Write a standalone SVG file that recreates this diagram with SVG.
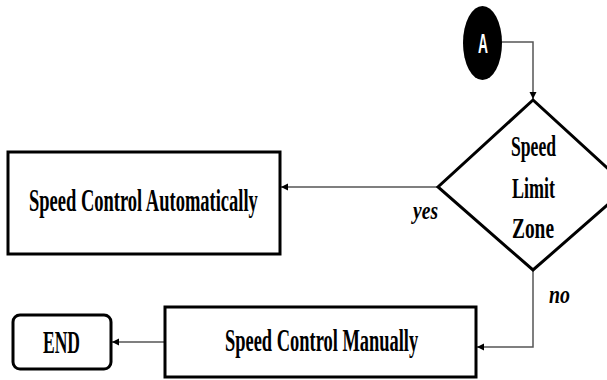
<svg xmlns="http://www.w3.org/2000/svg" width="607" height="380" viewBox="0 0 607 380">
<style>
.box{fill:#fff;stroke:#000;stroke-width:3}
.lbl{font-family:"Liberation Serif","Times New Roman",serif;font-weight:bold;font-size:32px;fill:#000}
.dl{font-family:"Liberation Serif","Times New Roman",serif;font-weight:bold;font-size:29px;fill:#000}
.it{font-family:"Liberation Serif","Times New Roman",serif;font-style:italic;font-weight:bold;font-size:25px;fill:#000}
.con{fill:none;stroke:#555;stroke-width:1.5}
</style>
<defs>
<marker id="arr" markerWidth="8" markerHeight="8" refX="7" refY="4" orient="auto" markerUnits="userSpaceOnUse">
<path d="M0,0.5 L7,4 L0,7.5 Z" fill="#000"/>
</marker>
</defs>
<g id="connectors">
<path class="con" d="M501,42 H533 V99" marker-end="url(#arr)"/>
<path class="con" d="M438,187 H281" marker-end="url(#arr)"/>
<path class="con" d="M533,270 V347 H477" marker-end="url(#arr)"/>
<path class="con" d="M165,342 H112" marker-end="url(#arr)"/>
<text class="it" x="413" y="219" textLength="25" lengthAdjust="spacingAndGlyphs">yes</text>
<text class="it" x="549" y="303" textLength="21" lengthAdjust="spacingAndGlyphs">no</text>
</g>
<g id="nodeA">
<ellipse cx="482.5" cy="43" rx="19.5" ry="37" fill="#000"/>
<text x="478" y="53" textLength="10" lengthAdjust="spacingAndGlyphs" font-family="Liberation Sans, Arial, sans-serif" font-weight="bold" font-size="27" fill="#fff">A</text>
</g>
<g id="decision">
<polygon class="box" points="533,100 438,187 533,270 628,187"/>
<text class="dl" x="511" y="156" textLength="45" lengthAdjust="spacingAndGlyphs">Speed</text>
<text class="dl" x="512" y="198" textLength="43" lengthAdjust="spacingAndGlyphs">Limit</text>
<text class="dl" x="512" y="238" textLength="42" lengthAdjust="spacingAndGlyphs">Zone</text>
</g>
<g id="auto">
<rect class="box" x="8" y="152" width="272" height="102"/>
<text class="lbl" transform="translate(29,211) scale(0.575,1)" x="0" y="0" textLength="398" lengthAdjust="spacingAndGlyphs">Speed Control Automatically</text>
</g>
<g id="manual">
<rect class="box" x="165" y="307" width="311" height="70"/>
<text class="lbl" transform="translate(225,351) scale(0.575,1)" x="0" y="0" textLength="336" lengthAdjust="spacingAndGlyphs">Speed Control Manually</text>
</g>
<g id="end">
<rect class="box" x="13" y="315" width="98" height="54" rx="7"/>
<text class="lbl" x="43" y="353" textLength="37" lengthAdjust="spacingAndGlyphs">END</text>
</g>
</svg>
